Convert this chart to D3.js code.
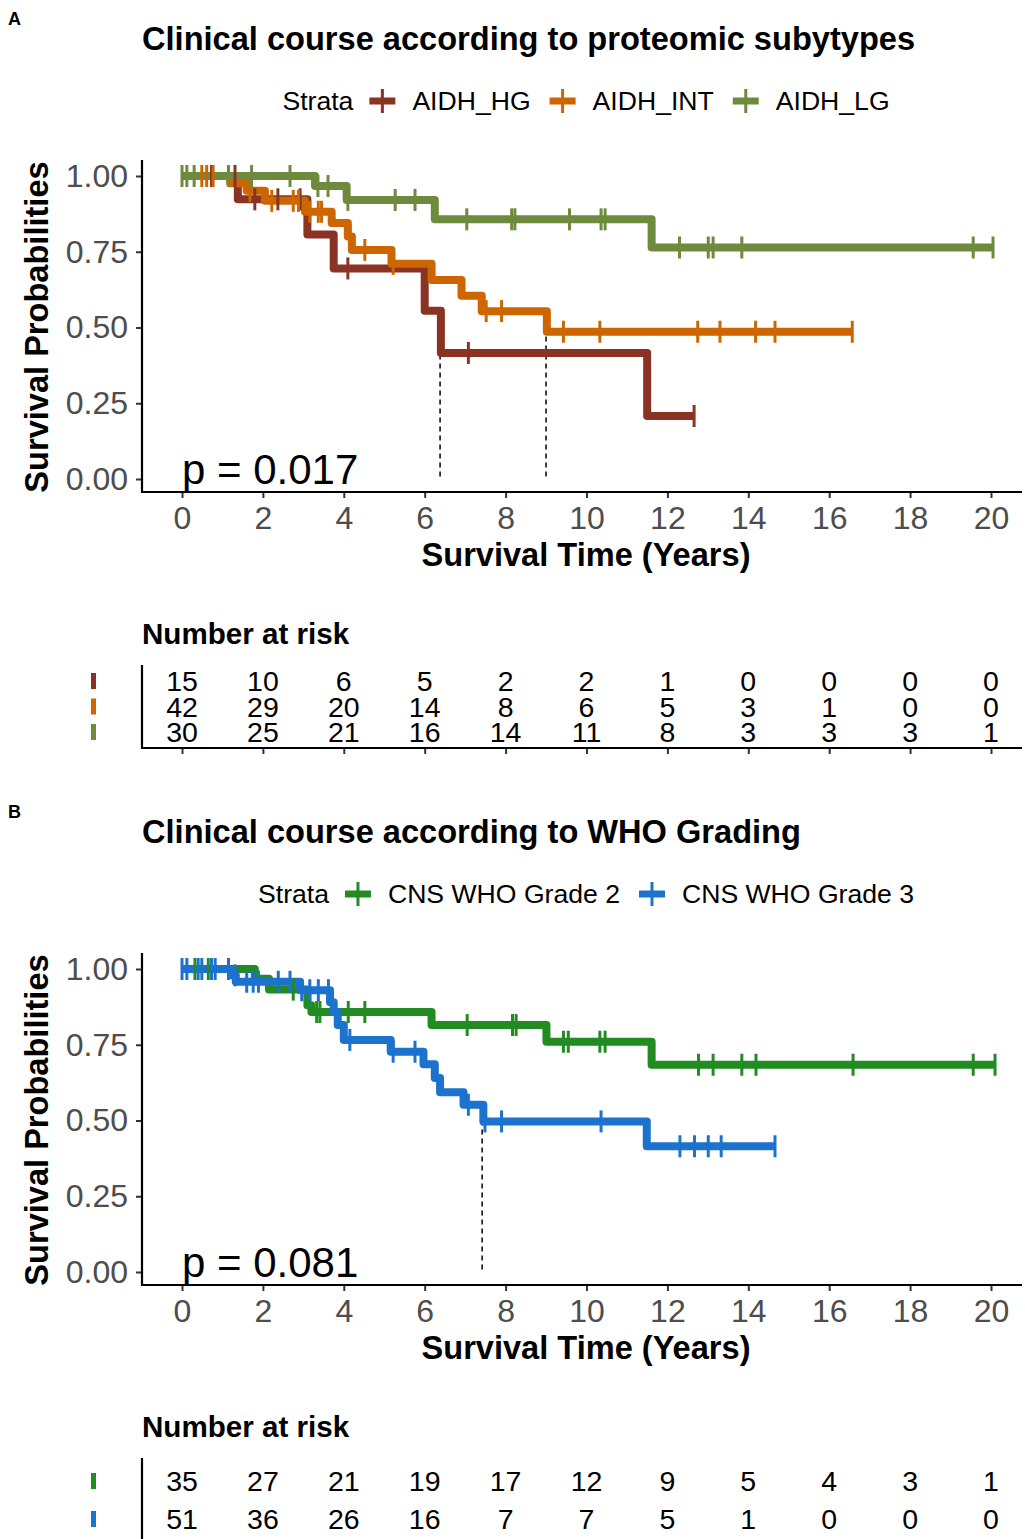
<!DOCTYPE html>
<html><head><meta charset="utf-8">
<script src="https://cdn.jsdelivr.net/npm/d3@7"></script>
<style>
body{margin:0;background:#fff}
text{font-family:"Liberation Sans",Arial,Helvetica,sans-serif}
</style>
</head><body>
<svg id="chart" width="1025" height="1539" xmlns="http://www.w3.org/2000/svg"></svg>
<script>
// ---------------- DATA ----------------
const timeTicks = [0, 2, 4, 6, 8, 10, 12, 14, 16, 18, 20];
const survTicks = [0, 0.25, 0.5, 0.75, 1];

// Panel A – proteomic subtypes
const titleA = "Clinical course according to proteomic subytypes";
const strataA = ["AIDH_HG", "AIDH_INT", "AIDH_LG"];
const colorsA = ["#8A3324", "#CD6600", "#6E8B3D"];

const hgEventTimes = [1.38, 3.10, 3.75, 6.00, 6.40, 11.50];
const hgSurv       = [0.923, 0.807, 0.695, 0.555, 0.416, 0.208];
const hgEnd = 12.66;
const hgCensor = [0.73, 1.31, 1.80, 2.37, 2.92, 4.10, 7.08, 12.66];

const intEventTimes = [1.19, 1.60, 2.05, 3.04, 3.70, 4.10, 4.20, 5.18, 6.17, 6.91, 7.41, 9.02];
const intSurv       = [0.976, 0.951, 0.918, 0.882, 0.845, 0.800, 0.756, 0.710, 0.657, 0.605, 0.554, 0.486];
const intEnd = 16.57;
const intCensor = [0.49, 0.61, 0.77, 1.68, 2.22, 2.75, 2.88, 3.16, 3.37, 3.45, 4.15, 4.52, 5.22, 7.52, 7.90, 9.43, 10.33, 12.75, 13.30, 14.18, 14.66, 16.57];

const lgEventTimes = [3.29, 4.07, 6.25, 11.61];
const lgSurv       = [0.967, 0.921, 0.857, 0.764];
const lgEnd = 20.05;
const lgCensor = [0.0, 0.12, 0.30, 1.15, 1.72, 2.67, 3.36, 3.61, 4.10, 5.27, 5.76, 7.04, 8.15, 8.23, 9.58, 10.36, 10.46, 12.30, 13.01, 13.13, 13.84, 19.56, 20.05];

const medianTimesA = [6.38, 9.00];
const pValueA = "p = 0.017";
const riskHG  = [15, 10, 6, 5, 2, 2, 1, 0, 0, 0, 0];
const riskINT = [42, 29, 20, 14, 8, 6, 5, 3, 1, 0, 0];
const riskLG  = [30, 25, 21, 16, 14, 11, 8, 3, 3, 3, 1];

// Panel B – WHO grading
const titleB = "Clinical course according to WHO Grading";
const strataB = ["CNS WHO Grade 2", "CNS WHO Grade 3"];
const colorsB = ["#228B22", "#1C72CD"];

const g2EventTimes = [1.80, 2.15, 3.10, 3.20, 6.17, 9.01, 11.61];
const g2Surv       = [0.968, 0.932, 0.880, 0.858, 0.815, 0.760, 0.684];
const g2End = 20.10;
const g2Censor = [0.32, 0.65, 2.75, 3.33, 3.41, 4.11, 4.52, 7.05, 8.17, 8.26, 9.43, 9.55, 10.33, 10.46, 12.77, 13.13, 13.84, 14.19, 16.59, 19.56, 20.10];

const g3EventTimes = [1.23, 1.33, 2.92, 3.66, 3.75, 3.85, 4.00, 5.16, 5.97, 6.25, 6.38, 6.96, 7.45, 11.49];
const g3Surv       = [0.979, 0.958, 0.930, 0.890, 0.858, 0.815, 0.766, 0.727, 0.686, 0.640, 0.593, 0.552, 0.497, 0.415];
const g3End = 14.66;
const g3Censor = [0.0, 0.12, 0.40, 0.49, 0.73, 0.82, 1.15, 1.31, 1.60, 1.76, 1.89, 2.38, 2.67, 2.96, 3.16, 3.37, 3.62, 4.15, 5.22, 5.76, 7.08, 7.49, 7.90, 10.36, 12.31, 12.67, 13.01, 13.33, 14.66];

const medianTimesB = [7.42];
const pValueB = "p = 0.081";
const riskG2 = [35, 27, 21, 19, 17, 12, 9, 5, 4, 3, 1];
const riskG3 = [51, 36, 26, 16, 7, 7, 5, 1, 0, 0, 0];

// ---------------- DRAWING ----------------
const svg = d3.select("#chart");
svg.append("rect").attr("width", 1025).attr("height", 1539).attr("fill", "#fff");

const FONT = '"Liberation Sans",Arial,Helvetica,sans-serif';

function makeSeries(evT, evS, end, cens) {
  const pts = [[0, 1]];
  evT.forEach((t, i) => pts.push([t, evS[i]]));
  pts.push([end, evS[evS.length - 1]]);
  const survAt = t => { let s = 1; evT.forEach((e, i) => { if (e <= t) s = evS[i]; }); return s; };
  return { pts, cens: cens.map(t => [t, survAt(t)]) };
}

function drawPanel(cfg) {
  const oy = cfg.offsetY;
  const g = svg.append("g").attr("transform", `translate(0,${oy})`);
  const x = d3.scaleLinear().domain([0, 20]).range([182, 991]);
  const y = d3.scaleLinear().domain([0, 1]).range([479, 176]);
  const left = 142, right = 1022, top = 160, bottom = 492;

  // panel letter + title
  g.append("text").attr("x", 8).attr("y", 25).attr("font-size", 18).attr("font-weight", "bold").text(cfg.letter);
  g.append("text").attr("x", 142).attr("y", 50).attr("font-size", 32.6).attr("font-weight", "bold").text(cfg.title);

  // legend
  const lg = g.append("g");
  let cx = 0;
  const strataT = lg.append("text").attr("x", 0).attr("y", 110).attr("font-size", 26.6).text("Strata");
  cx = strataT.node().getComputedTextLength() + 16;
  cfg.strata.forEach((s, i) => {
    lg.append("line").attr("x1", cx).attr("x2", cx + 26).attr("y1", 101).attr("y2", 101)
      .attr("stroke", cfg.colors[i]).attr("stroke-width", 7);
    lg.append("line").attr("x1", cx + 13).attr("x2", cx + 13).attr("y1", 89).attr("y2", 113)
      .attr("stroke", cfg.colors[i]).attr("stroke-width", 3);
    cx += 26 + 17;
    const t = lg.append("text").attr("x", cx).attr("y", 110).attr("font-size", 26.6).text(s);
    cx += t.node().getComputedTextLength() + 19;
  });
  const totalW = cx - 19;
  lg.attr("transform", `translate(${586 - totalW / 2},0)`);

  // axes
  const yAxis = g.append("g").attr("transform", `translate(${left},0)`)
    .call(d3.axisLeft(y).tickValues(survTicks).tickFormat(d3.format(".2f")).tickSize(6).tickPadding(8));
  const xAxis = g.append("g").attr("transform", `translate(0,${bottom})`)
    .call(d3.axisBottom(x).tickValues(timeTicks).tickFormat(d3.format("d")).tickSize(6).tickPadding(8));
  [yAxis, xAxis].forEach(a => {
    a.select(".domain").remove();
    a.selectAll(".tick line").attr("stroke", "#333").attr("stroke-width", 2);
    a.selectAll(".tick text").attr("fill", "#4D4D4D").attr("font-size", 32).attr("font-family", FONT);
  });
  xAxis.selectAll(".tick text").attr("dy", "0.72em");
  g.append("line").attr("x1", left).attr("x2", left).attr("y1", top).attr("y2", bottom + 1).attr("stroke", "#000").attr("stroke-width", 2.2);
  g.append("line").attr("x1", left - 1).attr("x2", right).attr("y1", bottom).attr("y2", bottom).attr("stroke", "#000").attr("stroke-width", 2.2);

  // axis titles
  g.append("text").attr("x", 586).attr("y", 566).attr("text-anchor", "middle").attr("font-size", 32.6).attr("font-weight", "bold").text("Survival Time (Years)");
  g.append("text").attr("transform", "translate(48,327) rotate(-90)").attr("text-anchor", "middle").attr("font-size", 32.6).attr("font-weight", "bold").text("Survival Probabilities");

  // median lines
  cfg.medians.forEach(m => {
    g.append("line").attr("x1", x(m)).attr("x2", x(m)).attr("y1", y(0.5)).attr("y2", y(0))
      .attr("stroke", "#000").attr("stroke-width", 1.5).attr("stroke-dasharray", "5,4");
  });

  // curves
  const line = d3.line().x(d => x(d[0])).y(d => y(d[1])).curve(d3.curveStepAfter);
  cfg.series.forEach((s, i) => {
    g.append("path").datum(s.pts).attr("d", line).attr("fill", "none")
      .attr("stroke", cfg.colors[i]).attr("stroke-width", 8).attr("stroke-linejoin", "round").attr("stroke-linecap", "butt");
  });
  cfg.series.forEach((s, i) => {
    g.append("g").selectAll("line").data(s.cens).join("line")
      .attr("x1", d => x(d[0])).attr("x2", d => x(d[0]))
      .attr("y1", d => y(d[1]) - 11).attr("y2", d => y(d[1]) + 11)
      .attr("stroke", cfg.colors[i]).attr("stroke-width", 3);
  });

  // p-value
  g.append("text").attr("x", 182).attr("y", 484).attr("font-size", 42).text(cfg.pValue);

  // risk table
  g.append("text").attr("x", 142).attr("y", 644).attr("font-size", 29.6).attr("font-weight", "bold").text("Number at risk");
  const ry = d3.scalePoint().domain(cfg.strata).range(cfg.rowRange);
  const tTop = 665, tBottom = 748;
  g.append("line").attr("x1", left).attr("x2", left).attr("y1", tTop).attr("y2", tBottom + 1).attr("stroke", "#000").attr("stroke-width", 2.2);
  const tAxis = g.append("g").attr("transform", `translate(0,${tBottom})`)
    .call(d3.axisBottom(x).tickValues(timeTicks).tickFormat("").tickSize(6));
  tAxis.select(".domain").remove();
  tAxis.selectAll(".tick line").attr("stroke", "#333").attr("stroke-width", 2);
  g.append("line").attr("x1", left - 1).attr("x2", right).attr("y1", tBottom).attr("y2", tBottom).attr("stroke", "#000").attr("stroke-width", 2.2);
  cfg.strata.forEach((s, i) => {
    const yy = ry(s);
    g.append("rect").attr("x", 91).attr("y", yy - 8).attr("width", 5).attr("height", 16).attr("fill", cfg.colors[i]);
    g.append("g").selectAll("text").data(cfg.risk[i]).join("text")
      .attr("x", (d, j) => x(timeTicks[j])).attr("y", yy).attr("dy", "0.36em")
      .attr("text-anchor", "middle").attr("font-size", 28.5).attr("fill", "#000").text(d => d);
  });
}

drawPanel({
  offsetY: 0, letter: "A", title: titleA, strata: strataA, colors: colorsA,
  series: [makeSeries(hgEventTimes, hgSurv, hgEnd, hgCensor),
           makeSeries(intEventTimes, intSurv, intEnd, intCensor),
           makeSeries(lgEventTimes, lgSurv, lgEnd, lgCensor)],
  medians: medianTimesA, pValue: pValueA,
  risk: [riskHG, riskINT, riskLG], rowRange: [681, 732]
});
drawPanel({
  offsetY: 793, letter: "B", title: titleB, strata: strataB, colors: colorsB,
  series: [makeSeries(g2EventTimes, g2Surv, g2End, g2Censor),
           makeSeries(g3EventTimes, g3Surv, g3End, g3Censor)],
  medians: medianTimesB, pValue: pValueB,
  risk: [riskG2, riskG3], rowRange: [688, 726]
});
</script>
</body></html>
